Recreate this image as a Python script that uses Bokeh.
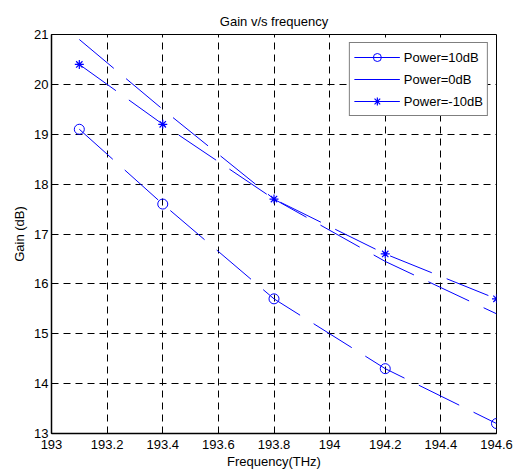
import math

from bokeh.plotting import figure
from bokeh.models import Legend, LegendItem, FixedTicker, Range1d
from bokeh.embed import file_html
from bokeh.resources import INLINE

# Gain measured at each carrier frequency for three input powers
freq = [193.1, 193.4, 193.8, 194.2, 194.6]
gain_p10 = [19.1, 17.6, 15.7, 14.3, 13.2]
gain_p0 = [20.9, 19.5, 17.7, 16.45, 15.4]
gain_m10 = [20.4, 19.2, 17.7, 16.6, 15.7]

series_labels = ["Power=10dB", "Power=0dB", "Power=-10dB"]

x_ticks = [193.0, 193.2, 193.4, 193.6, 193.8, 194.0, 194.2, 194.4, 194.6]
x_tick_labels = ["193", "193.2", "193.4", "193.6", "193.8", "194", "194.2", "194.4", "194.6"]
y_ticks = [13, 14, 15, 16, 17, 18, 19, 20, 21]
y_tick_labels = ["13", "14", "15", "16", "17", "18", "19", "20", "21"]

FONT = "Liberation Sans"
BLUE = "#0000ff"
DASH = "45 16"

p = figure(
    width=513, height=471,
    x_range=Range1d(193.0, 194.6), y_range=Range1d(13, 21),
    output_backend="svg", toolbar_location=None,
    min_border_left=51, min_border_right=17,
    min_border_top=34, min_border_bottom=38,
    title="Gain v/s frequency",
)
p.background_fill_color = "white"
p.border_fill_color = "white"
p.outline_line_color = "black"
p.outline_line_width = 1

p.title.align = "center"
p.title.text_font = FONT
p.title.text_font_size = "13px"
p.title.text_font_style = "normal"
p.title.text_color = "black"
p.title.standoff = 12

# axes: inward ticks, plain labels
p.xaxis.ticker = FixedTicker(ticks=x_ticks)
p.yaxis.ticker = FixedTicker(ticks=y_ticks)
p.xaxis.major_label_overrides = dict(zip(x_ticks, x_tick_labels))
p.yaxis.major_label_overrides = dict(zip(y_ticks, y_tick_labels))
p.xaxis.axis_label = "Frequency(THz)"
p.yaxis.axis_label = "Gain (dB)"
for ax in (p.xaxis[0], p.yaxis[0]):
    ax.axis_line_color = "black"
    ax.axis_line_width = 1.5
    ax.major_tick_line_color = "black"
    ax.major_tick_in = 5
    ax.major_tick_out = 0
    ax.minor_tick_line_color = None
    ax.major_label_text_font = FONT
    ax.major_label_text_font_size = "13px"
    ax.major_label_text_color = "black"
    ax.axis_label_text_font = FONT
    ax.axis_label_text_font_size = "13px"
    ax.axis_label_text_font_style = "normal"
    ax.axis_label_text_color = "black"
p.xaxis.major_label_standoff = 6
p.xaxis.axis_label_standoff = 2
p.yaxis.major_label_standoff = 3
p.yaxis.axis_label_standoff = 4

# dashed grid
p.xgrid.ticker = FixedTicker(ticks=x_ticks)
p.ygrid.ticker = FixedTicker(ticks=y_ticks)
p.grid.grid_line_color = "black"
p.grid.grid_line_dash = "7 5"
p.grid.grid_line_width = 1

# data lines (dashed) and markers
p.line(freq, gain_p10, line_color=BLUE, line_width=1, line_dash=DASH)
p.line(freq, gain_p0, line_color=BLUE, line_width=1, line_dash=DASH)
p.line(freq, gain_m10, line_color=BLUE, line_width=1, line_dash=DASH)
m10 = p.scatter(freq, gain_p10, marker="circle", size=10, fill_color=None,
                line_color=BLUE, line_width=1)
mm10 = p.scatter(freq, gain_m10, marker="asterisk", size=9,
                 line_color=BLUE, line_width=1.2)

# solid line samples for the legend
nan = [math.nan]
k10 = p.line(nan, nan, line_color=BLUE, line_width=1)
k0 = p.line(nan, nan, line_color=BLUE, line_width=1)
km10 = p.line(nan, nan, line_color=BLUE, line_width=1)

legend = Legend(
    items=[
        LegendItem(label=series_labels[0], renderers=[k10, m10]),
        LegendItem(label=series_labels[1], renderers=[k0]),
        LegendItem(label=series_labels[2], renderers=[km10, mm10]),
    ],
    location="top_right",
    margin=8,
    padding=4,
    spacing=2,
    glyph_width=46,
    glyph_height=20,
    label_height=20,
    label_standoff=4,
    label_text_font=FONT,
    label_text_font_size="13px",
    label_text_color="black",
    border_line_color="black",
    border_line_width=1,
    background_fill_color="white",
    background_fill_alpha=1,
)
p.add_layout(legend, "center")

open("out.html", "w").write(file_html(p, INLINE))
